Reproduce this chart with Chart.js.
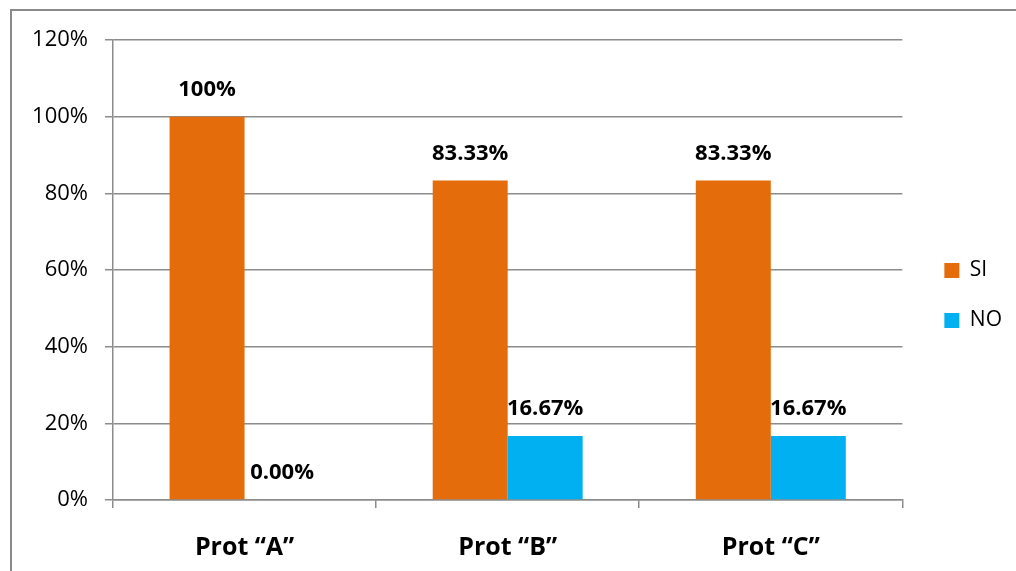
<!DOCTYPE html>
<html>
<head>
<meta charset="utf-8">
<script src="https://cdn.jsdelivr.net/npm/chart.js@4"></script>
<style>
  html, body { margin: 0; padding: 0; background: #fff; }
  #wrap { width: 1016px; height: 571px; position: relative; }
</style>
</head>
<body>
<div id="wrap"><canvas id="protChart" width="1016" height="571"></canvas></div>
<script>
const categories = ["Prot \u201cA\u201d", "Prot \u201cB\u201d", "Prot \u201cC\u201d"];
const siValues = [100, 83.33, 83.33];
const noValues = [0, 16.67, 16.67];
const siLabels = ["100%", "83.33%", "83.33%"];
const noLabels = ["0.00%", "16.67%", "16.67%"];
const yTicks = [0, 20, 40, 60, 80, 100, 120];

const FONT = "'Open Sans', sans-serif";
const GRID = "#8c8c8c";

// marco gris (solo lados superior e izquierdo visibles)
const framePlugin = {
  id: "frame",
  beforeDraw(chart) {
    const ctx = chart.ctx;
    ctx.save();
    ctx.fillStyle = "#fff";
    ctx.fillRect(0, 0, chart.width, chart.height);
    ctx.strokeStyle = "#8a8a8a";
    ctx.lineWidth = 2;
    ctx.beginPath();
    ctx.moveTo(11, chart.height);
    ctx.lineTo(11, 10);
    ctx.lineTo(chart.width, 10);
    ctx.stroke();
    ctx.restore();
  },
  // separar un poco la leyenda del área del gráfico y subirla
  afterLayout(chart) {
    const lg = chart.legend;
    if (!lg) return;
    const shift = 42 - lg.options.labels.padding;
    lg.left += shift;
    lg.right += shift;
    lg.top -= 10;
    lg.bottom -= 10;
  },
};

// etiquetas de valor encima de cada barra
const valueLabels = {
  id: "valueLabels",
  afterDatasetsDraw(chart) {
    const ctx = chart.ctx;
    const texts = [siLabels, noLabels];
    ctx.save();
    ctx.font = "bold 22px " + FONT;
    ctx.fillStyle = "#000";
    ctx.textAlign = "center";
    ctx.textBaseline = "middle";
    chart.data.datasets.forEach((ds, i) => {
      chart.getDatasetMeta(i).data.forEach((bar, j) => {
        ctx.fillText(texts[i][j], bar.x, bar.y - 27);
      });
    });
    ctx.restore();
  },
};

const ctx = document.getElementById("protChart").getContext("2d");
new Chart(ctx, {
  type: "bar",
  data: {
    labels: categories,
    datasets: [
      {
        label: "SI",
        data: siValues,
        backgroundColor: "#E46C0A",
        categoryPercentage: 0.57,
        barPercentage: 1.0,
      },
      {
        label: "NO",
        data: noValues,
        backgroundColor: "#00B0F0",
        categoryPercentage: 0.57,
        barPercentage: 1.0,
      },
    ],
  },
  options: {
    responsive: false,
    animation: false,
    devicePixelRatio: 1,
    layout: { padding: { top: 40, right: 17, left: 0, bottom: 0 } },
    plugins: {
      legend: {
        position: "right",
        labels: {
          boxWidth: 15,
          boxHeight: 15,
          padding: 29,
          color: "#000",
          font: { family: FONT, size: 21 },
        },
      },
      tooltip: { enabled: false },
    },
    scales: {
      x: {
        offset: true,
        grid: {
          offset: true,
          drawOnChartArea: false,
          drawTicks: true,
          tickLength: 8,
          color: GRID,
          lineWidth: 1.5,
        },
        border: { color: GRID, width: 1.5 },
        ticks: {
          color: "#000",
          padding: 25,
          font: { family: FONT, size: 25, weight: "bold" },
        },
        afterFit(scale) { scale.height = 71; },
      },
      y: {
        min: 0,
        max: 120,
        afterBuildTicks(scale) {
          scale.ticks = yTicks.map((v) => ({ value: v }));
        },
        grid: {
          color: GRID,
          lineWidth: 1.5,
          drawTicks: true,
          tickLength: 8,
        },
        border: { color: GRID, width: 1.5 },
        ticks: {
          color: "#000",
          padding: 17,
          font: { family: FONT, size: 22 },
          callback: (v) => v + "%",
        },
        afterFit(scale) { scale.width = 113; },
      },
    },
  },
  plugins: [framePlugin, valueLabels],
});
</script>
</body>
</html>
